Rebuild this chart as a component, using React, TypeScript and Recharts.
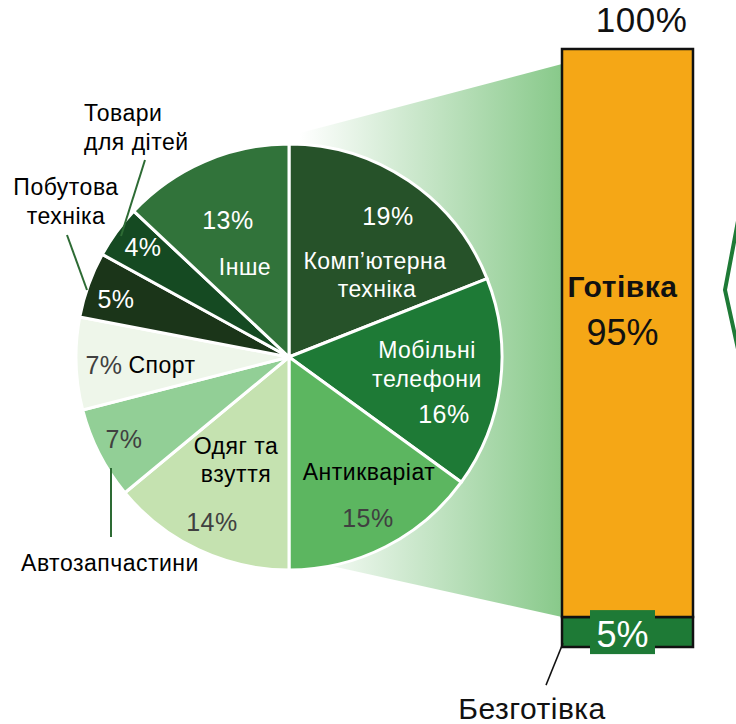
import { PieChart, Pie, Cell, BarChart, Bar, XAxis, YAxis, LabelList, Customized } from 'recharts';

// goods categories on the pie, clockwise from 12 o'clock
const categories = [
  ['Комп’ютерна', 'техніка'],
  ['Мобільні', 'телефони'],
  ['Антикваріат'],
  ['Одяг та', 'взуття'],
  ['Автозапчастини'],
  ['Спорт'],
  ['Побутова', 'техніка'],
  ['Товари', 'для дітей'],
  ['Інше'],
];
const shares = [19, 16, 15, 14, 7, 7, 5, 4, 13];
const sliceColors = ['#265229', '#1e7a36', '#5cb660', '#c5e2b0', '#92cf96', '#eef6ea', '#1b3519', '#154a22', '#31733a'];

// payment split for the bar
const paymentTypes = ['Безготівка', 'Готівка'];
const paymentShares = [5, 95];

const pieData = categories.map((lines, i) => ({ name: lines.join(' '), value: shares[i] }));
const barRow: Record<string, number | string> = { name: 'payments' };
paymentTypes.forEach((t, i) => (barRow[t] = paymentShares[i]));
const barData = [barRow];
const total = paymentShares.reduce((a, b) => a + b, 0);

const FONT = '"Liberation Sans", Arial, sans-serif';
const CX = 289;
const CY = 357;
const R = 213;
const BAR_LEFT = 562;

const W = '#ffffff';
const G = '#404040';
const B = '#000000';

// label placement relative to pie centre: dx, dy (baseline)
type Line = { dx: number; dy: number; text: 'pct' | number; fill: string; anchor?: string };
const labelLayout: { lines: Line[]; leader?: number[] }[] = [
  { lines: [{ dx: 99, dy: -132, text: 'pct', fill: W }, { dx: 86, dy: -88, text: 0, fill: W }, { dx: 88, dy: -60, text: 1, fill: W }] },
  { lines: [{ dx: 138, dy: 1, text: 0, fill: W }, { dx: 138, dy: 30, text: 1, fill: W }, { dx: 155, dy: 66, text: 'pct', fill: W }] },
  { lines: [{ dx: 80, dy: 123, text: 0, fill: B }, { dx: 79, dy: 170, text: 'pct', fill: G }] },
  { lines: [{ dx: -53, dy: 97, text: 0, fill: B }, { dx: -53, dy: 125, text: 1, fill: B }, { dx: -77, dy: 174, text: 'pct', fill: G }] },
  { lines: [{ dx: -165, dy: 91, text: 'pct', fill: G }, { dx: -179, dy: 214, text: 0, fill: B }], leader: [-178, 111, -178, 180] },
  { lines: [{ dx: -185, dy: 17, text: 'pct', fill: G }, { dx: -127, dy: 16, text: 0, fill: B }] },
  { lines: [{ dx: -173, dy: -49, text: 'pct', fill: W }, { dx: -223, dy: -162, text: 0, fill: B }, { dx: -223, dy: -133, text: 1, fill: B }], leader: [-222, -122, -202, -67] },
  { lines: [{ dx: -146, dy: -101, text: 'pct', fill: W }, { dx: -205, dy: -236, text: 0, fill: B, anchor: 'start' }, { dx: -205, dy: -207, text: 1, fill: B, anchor: 'start' }], leader: [-144, -197, -168, -121] },
  { lines: [{ dx: -61, dy: -128, text: 'pct', fill: W }, { dx: -44, dy: -82, text: 0, fill: W }] },
];

const renderPieLabel = (props: any) => {
  const { cx, cy, index, value } = props;
  const layout = labelLayout[index];
  return (
    <g key={`lbl-${index}`}>
      {layout.leader && (
        <line x1={cx + layout.leader[0]} y1={cy + layout.leader[1]} x2={cx + layout.leader[2]} y2={cy + layout.leader[3]} stroke="#2d6b34" strokeWidth={2} />
      )}
      {layout.lines.map((l, j) => (
        <text
          key={j}
          x={cx + l.dx}
          y={cy + l.dy}
          textAnchor={l.anchor || 'middle'}
          fontFamily={FONT}
          fontSize={l.text === 'pct' ? 25 : 23}
          letterSpacing={0.5}
          fill={l.fill}
        >
          {l.text === 'pct' ? `${value}%` : categories[index][l.text]}
        </text>
      ))}
    </g>
  );
};

// fan from the pie to the bar, plus the cut-off arrow at the right edge
const Connector = () => {
  const leftX = CX + 11;
  return (
    <g>
      <defs>
        <linearGradient id="fan" x1={leftX} x2={BAR_LEFT} y1="0" y2="0" gradientUnits="userSpaceOnUse">
          <stop offset="0" stopColor="#ffffff" />
          <stop offset="1" stopColor="#88c98a" />
        </linearGradient>
      </defs>
      <polygon points={`${leftX},${CY - R - 11} ${BAR_LEFT},64 ${BAR_LEFT},617 ${leftX},${CY + R - 11}`} fill="url(#fan)" />
      <polyline points="738,221 725,290 738,349" fill="none" stroke="#1e7a36" strokeWidth={4} />
    </g>
  );
};

const CashLabel = (props: any) => {
  const { x, y, width, height, value } = props;
  const mid = y + height / 2;
  const c = x + width / 2 - 5;
  return (
    <g>
      <text x={x + width / 2 + 14} y={y - 17} textAnchor="middle" fontFamily={FONT} fontSize={35} letterSpacing={0.5} fill="#111">{`${total}%`}</text>
      <text x={c} y={mid - 36} textAnchor="middle" fontFamily={FONT} fontSize={30} letterSpacing={0.5} fontWeight="bold" fill="#111">{paymentTypes[1]}</text>
      <text x={c} y={mid + 12} textAnchor="middle" fontFamily={FONT} fontSize={36} fill="#111">{`${value}%`}</text>
    </g>
  );
};

const CashlessLabel = (props: any) => {
  const { x, y, width, value } = props;
  return (
    <g>
      <rect x={x + 28} y={y - 7} width={65} height={44} fill="#1e7a36" />
      <text x={x + width / 2 - 5} y={y + 30} textAnchor="middle" fontFamily={FONT} fontSize={36} fill="#fff">{`${value}%`}</text>
      <line x1={x + 1} y1={y + 26} x2={x - 16} y2={y + 68} stroke="#111" strokeWidth={1.5} />
      <text x={x - 30} y={y + 102} textAnchor="middle" fontFamily={FONT} fontSize={30} letterSpacing={0.5} fill="#111">{paymentTypes[0]}</text>
    </g>
  );
};

export default function App() {
  return (
    <div style={{ position: 'absolute', left: 0, top: 0, width: 736, height: 724, overflow: 'hidden', background: '#fff' }}>
      <div style={{ position: 'absolute', left: 0, top: 0 }}>
        <BarChart width={760} height={724} data={barData} margin={{ top: 49, right: 15, bottom: 77, left: 510 }}>
          <Customized component={<Connector />} />
          <XAxis dataKey="name" height={0} tick={false} tickLine={false} axisLine={{ stroke: '#111', strokeWidth: 2 }} />
          <YAxis hide domain={[0, 100]} width={0} />
          <Bar dataKey={paymentTypes[0]} stackId="p" fill="#1e7a36" stroke="#111" strokeWidth={2.5} barSize={131} isAnimationActive={false}>
            <LabelList dataKey={paymentTypes[0]} content={CashlessLabel} />
          </Bar>
          <Bar dataKey={paymentTypes[1]} stackId="p" fill="#f5a716" stroke="#111" strokeWidth={2.5} barSize={131} isAnimationActive={false}>
            <LabelList dataKey={paymentTypes[1]} content={CashLabel} />
          </Bar>
        </BarChart>
      </div>
      <div style={{ position: 'absolute', left: 0, top: 0 }}>
        <PieChart width={736} height={724} margin={{ top: 0, right: 0, bottom: 0, left: 0 }}>
          <Pie
            data={pieData}
            dataKey="value"
            cx={CX}
            cy={CY}
            outerRadius={R}
            startAngle={90}
            endAngle={-270}
            stroke="#fff"
            strokeWidth={3}
            label={renderPieLabel}
            labelLine={false}
            isAnimationActive={false}
          >
            {pieData.map((d, i) => (
              <Cell key={d.name} fill={sliceColors[i]} stroke="#fff" strokeWidth={3} />
            ))}
          </Pie>
        </PieChart>
      </div>
    </div>
  );
}
